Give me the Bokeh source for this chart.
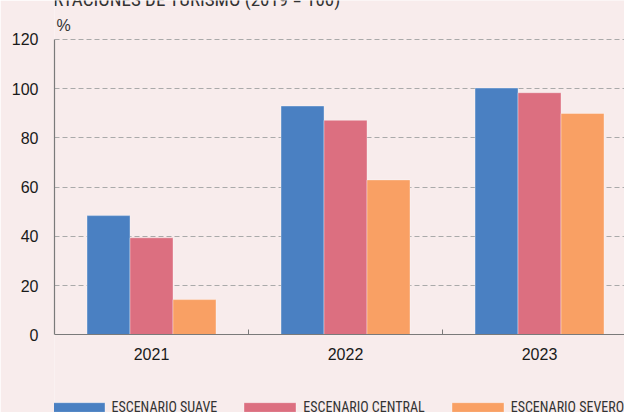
from bokeh.plotting import figure
from bokeh.models import ColumnDataSource, FixedTicker, Label, Legend, LegendItem, Range1d
from bokeh.transform import dodge
from bokeh.embed import file_html
from bokeh.resources import INLINE

# Data
years = ["2021", "2022", "2023"]
suave = [48.4, 92.9, 100.2]
central = [39.4, 87.1, 98.3]
severo = [14.3, 62.9, 89.9]
series_names = ["ESCENARIO SUAVE", "ESCENARIO CENTRAL", "ESCENARIO SEVERO"]
title_text = "EXPORTACIONES DE TURISMO (2019 = 100)"
y_ticks = [0, 20, 40, 60, 80, 100, 120]

colors = ["#4a80c2", "#dc6f80", "#f9a064"]
bg = "#f8ecec"
cond_font = "'Liberation Sans Narrow', 'Roboto Condensed', 'Open Sans Condensed', 'DejaVu Sans Condensed', sans-serif"
font = "'Liberation Sans', Arial, sans-serif"

centers = [i + 0.5 for i in range(len(years))]
src = ColumnDataSource(dict(x=centers, suave=suave, central=central, severo=severo))

p = figure(width=624, height=412, output_backend="svg", toolbar_location=None,
           x_range=Range1d(0, 2.938), y_range=Range1d(-31.55, 135.76),
           min_border_left=54, min_border_right=0, min_border_top=0, min_border_bottom=0)
p.background_fill_color = bg
p.border_fill_color = bg
p.outline_line_color = None

bw = 0.2216
rs = []
for off, col, c in zip([-bw, 0, bw], ["suave", "central", "severo"], colors):
    r = p.vbar(x=dodge("x", off, range=p.x_range), top=col, width=bw, source=src,
               fill_color=c, line_color="white", line_alpha=0.35, line_width=1)
    rs.append(r)

# grid
p.xgrid.grid_line_color = None
p.ygrid.ticker = FixedTicker(ticks=y_ticks)
p.ygrid.grid_line_color = "#aaaaaa"
p.ygrid.grid_line_dash = "5 3"
p.ygrid.grid_line_width = 1.2

# y axis
p.yaxis.ticker = FixedTicker(ticks=y_ticks)
p.yaxis.bounds = (0, 120)
p.yaxis.axis_line_color = "#7a7a7a"
p.yaxis.axis_line_width = 1.2
p.yaxis.major_tick_line_color = None
p.yaxis.major_tick_out = 0
p.yaxis.major_tick_in = 0
p.yaxis.minor_tick_line_color = None
p.yaxis.minor_tick_out = 0
p.yaxis.major_label_standoff = 16
p.yaxis.major_label_text_font = font
p.yaxis.major_label_text_font_size = "16px"
p.yaxis.major_label_text_color = "#1a1a1a"

# x axis, pinned at y = 0 inside the frame
p.xaxis.fixed_location = 0
p.xaxis.ticker = FixedTicker(ticks=centers, minor_ticks=[1, 2])
p.xaxis.major_label_overrides = {c: y for c, y in zip(centers, years)}
p.xaxis.axis_line_color = "#7a7a7a"
p.xaxis.axis_line_width = 1.2
p.xaxis.major_tick_line_color = None
p.xaxis.major_tick_out = 0
p.xaxis.major_tick_in = 0
p.xaxis.minor_tick_line_color = "#7a7a7a"
p.xaxis.minor_tick_in = 5
p.xaxis.minor_tick_out = 0
p.xaxis.major_label_standoff = 13
p.xaxis.major_label_text_font = font
p.xaxis.major_label_text_font_size = "16px"
p.xaxis.major_label_text_color = "#1a1a1a"

# % label
p.add_layout(Label(x=0, y=120, x_offset=2, y_offset=14, text="%", text_font=font,
                   text_font_size="16px", text_color="#333333", text_baseline="alphabetic"))
# cut-off title at the very top
p.add_layout(Label(x=0, y=120, x_offset=-43, y_offset=40, text=title_text, text_font=cond_font,
                   text_font_size="19px", text_color="#333333", text_baseline="alphabetic"))

legend = Legend(items=[LegendItem(label=n, renderers=[r]) for n, r in zip(series_names, rs)],
                location=(-8.5, -5), orientation="horizontal")
legend.background_fill_alpha = 0
legend.border_line_color = None
legend.padding = 0
legend.margin = 0
legend.spacing = 20
legend.glyph_width = 65
legend.glyph_height = 12
legend.label_height = 20
legend.label_standoff = 1
legend.label_text_font = cond_font
legend.label_text_font_size = "14px"
legend.label_text_color = "#333333"
p.add_layout(legend)

open("out.html", "w").write(file_html(p, INLINE))
